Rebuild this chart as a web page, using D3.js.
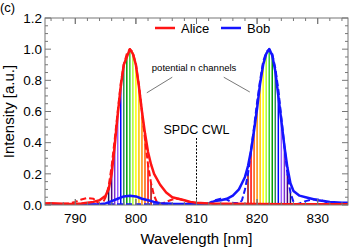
<!DOCTYPE html>
<html>
<head>
<meta charset="utf-8">
<script src="https://cdn.jsdelivr.net/npm/d3@7"></script>
<style>
  body { margin: 0; background: #fff; }
  svg text { font-family: "Liberation Sans", Arial, sans-serif; fill: #000; }
</style>
</head>
<body>
<svg id="chart" width="349" height="248"></svg>
<script>
// Alice (red) - measured (solid) and expected (dashed)
const aliceSolidWl = [785, 786, 787, 788, 789, 790, 791, 792, 793, 794, 795, 795.5, 796, 796.5, 797, 797.5, 798, 798.5, 799, 799.5, 800, 800.5, 801, 801.5, 802, 802.5, 803, 804, 805, 806, 807, 808, 809, 810, 812, 815, 820, 825, 830, 835];
const aliceSolidVal = [0.01, 0.012, 0.01, 0.008, 0.006, 0.006, 0.01, 0.015, 0.02, 0.03, 0.06, 0.1, 0.2, 0.38, 0.58, 0.76, 0.9, 0.95, 1.0, 0.97, 0.9, 0.76, 0.6, 0.46, 0.34, 0.26, 0.2, 0.13, 0.08, 0.05, 0.04, 0.03, 0.02, 0.015, 0.01, 0.008, 0.006, 0.005, 0.005, 0.005];
const aliceDashWl = [785, 787, 789, 790, 791, 792, 793, 793.5, 794, 794.5, 795, 795.5, 796, 796.5, 797, 797.5, 798, 798.5, 799, 799.5, 800, 800.5, 801, 801.5, 802, 802.5, 803, 803.5, 804, 805, 806, 807, 808, 809, 810, 815, 820, 835];
const aliceDashVal = [0.01, 0.005, 0.01, 0.02, 0.035, 0.045, 0.04, 0.02, 0.005, 0.01, 0.05, 0.12, 0.25, 0.42, 0.6, 0.78, 0.9, 0.97, 1.0, 0.98, 0.9, 0.77, 0.6, 0.42, 0.26, 0.14, 0.06, 0.015, 0.005, 0.02, 0.035, 0.04, 0.03, 0.015, 0.005, 0.005, 0.005, 0.005];

// Bob (blue)
const bobSolidWl = [785, 790, 794, 795, 796, 797, 798, 799, 800, 801, 802, 803, 804, 806, 810, 812, 813, 814, 815, 816, 817, 817.5, 818, 818.5, 819, 819.5, 820, 820.5, 821, 821.5, 822, 822.5, 823, 823.5, 824, 824.5, 825, 825.5, 826, 827, 828, 829, 830, 831, 832, 834, 835];
const bobSolidVal = [0.004, 0.004, 0.005, 0.01, 0.025, 0.04, 0.055, 0.06, 0.055, 0.04, 0.03, 0.02, 0.012, 0.008, 0.006, 0.01, 0.025, 0.03, 0.04, 0.06, 0.1, 0.14, 0.18, 0.25, 0.35, 0.48, 0.62, 0.78, 0.9, 0.97, 1.0, 0.96, 0.86, 0.7, 0.54, 0.38, 0.24, 0.14, 0.09, 0.06, 0.05, 0.04, 0.03, 0.025, 0.02, 0.015, 0.015];
const bobDashWl = [785, 795, 805, 810, 812, 813, 814, 815, 816, 817, 817.5, 818, 818.5, 819, 819.5, 820, 820.5, 821, 821.5, 822, 822.5, 823, 823.5, 824, 824.5, 825, 825.5, 826, 826.5, 827, 828, 829, 830, 831, 832, 833, 835];
const bobDashVal = [0.004, 0.004, 0.005, 0.005, 0.01, 0.03, 0.04, 0.035, 0.015, 0.01, 0.03, 0.1, 0.2, 0.35, 0.5, 0.66, 0.8, 0.92, 0.98, 1.0, 0.97, 0.88, 0.74, 0.56, 0.38, 0.2, 0.08, 0.02, 0.005, 0.01, 0.025, 0.035, 0.035, 0.025, 0.01, 0.005, 0.005];

// potential channels (rainbow lines)
const aliceChanWl = [795.5, 796, 796.5, 797, 797.5, 798, 798.5, 799, 799.5, 800, 800.5, 801, 801.5, 802, 802.5];
const aliceChanVal = [0.12, 0.25, 0.42, 0.6, 0.78, 0.9, 0.97, 1.0, 0.98, 0.9, 0.77, 0.6, 0.42, 0.26, 0.14];
const bobChanWl = [818.5, 819, 819.5, 820, 820.5, 821, 821.5, 822, 822.5, 823, 823.5, 824, 824.5, 825, 825.5];
const bobChanVal = [0.2, 0.35, 0.5, 0.66, 0.8, 0.92, 0.98, 1.0, 0.97, 0.88, 0.74, 0.56, 0.38, 0.2, 0.08];
const chanColors = ["#1b1464", "#4b0082", "#7b2fd0", "#9b59ff", "#0000ff", "#2e8b57", "#00a000", "#32cd32", "#adff2f", "#ffff00", "#ffc000", "#ff8c00", "#ff5a00", "#ff0000", "#a50000"];

// axis ticks
const xTicks = [790, 800, 810, 820, 830];
const yTicks = [0, 0.2, 0.4, 0.6, 0.8, 1.0, 1.2];

const svg = d3.select("#chart");
const pLeft = 45, pRight = 348, pTop = 18, pBottom = 205;

const x = d3.scaleLinear().domain([785, 835]).range([pLeft, pRight]);
const y = d3.scaleLinear().domain([0, 1.2]).range([pBottom, pTop]);

// Clip for curves
svg.append("clipPath").attr("id", "clip")
    .append("rect")
    .attr("x", pLeft).attr("y", pTop)
    .attr("width", pRight - pLeft).attr("height", pBottom - pTop);

const plot = svg.append("g").attr("clip-path", "url(#clip)");

// Rainbow channel lines
function drawChannels(wl, val, colors) {
    plot.selectAll(null)
        .data(wl.map((w, i) => ({ w: w, v: val[i], c: colors[i] })))
        .enter()
        .append("line")
        .attr("x1", d => x(d.w)).attr("x2", d => x(d.w))
        .attr("y1", y(0)).attr("y2", d => y(d.v))
        .attr("stroke", d => d.c)
        .attr("stroke-width", 1.5);
}
drawChannels(aliceChanWl, aliceChanVal, chanColors);
drawChannels(bobChanWl, bobChanVal, chanColors.slice().reverse());

// Curves
const line = d3.line()
    .x(d => x(d[0]))
    .y(d => y(d[1]));

function drawCurve(wl, val, color, dashed) {
    plot.append("path")
        .datum(wl.map((w, i) => [w, val[i]]))
        .attr("fill", "none")
        .attr("stroke", color)
        .attr("stroke-width", dashed ? 2 : 2.5)
        .attr("stroke-dasharray", dashed ? "6,3" : null)
        .attr("stroke-linejoin", "round")
        .attr("d", line);
}
drawCurve(bobDashWl, bobDashVal, "#1414ff", true);
drawCurve(aliceDashWl, aliceDashVal, "#ff1414", true);
drawCurve(bobSolidWl, bobSolidVal, "#1414ff", false);
drawCurve(aliceSolidWl, aliceSolidVal, "#ff1414", false);

// SPDC CWL marker
svg.append("line")
    .attr("x1", x(810)).attr("x2", x(810))
    .attr("y1", y(0.43)).attr("y2", y(0))
    .attr("stroke", "#000")
    .attr("stroke-width", 1)
    .attr("stroke-dasharray", "2,1.5");
svg.append("text")
    .attr("x", x(810)).attr("y", y(0.455))
    .attr("text-anchor", "middle")
    .attr("font-size", 12.5)
    .text("SPDC CWL");

// "potential n channels" annotation
svg.append("text")
    .attr("x", x(809.6)).attr("y", y(0.86))
    .attr("text-anchor", "middle")
    .attr("font-size", 9.5)
    .text("potential n channels");
const pointers = [[806, 0.82, 801.8, 0.72], [814.5, 0.82, 818.8, 0.725]];
svg.selectAll(null)
    .data(pointers)
    .enter()
    .append("line")
    .attr("x1", d => x(d[0])).attr("y1", d => y(d[1]))
    .attr("x2", d => x(d[2])).attr("y2", d => y(d[3]))
    .attr("stroke", "#555")
    .attr("stroke-width", 0.8);

// Frame with inward ticks on all sides
const frame = svg.append("g").attr("stroke", "#777").attr("stroke-width", 1);
frame.append("rect")
    .attr("x", pLeft).attr("y", pTop)
    .attr("width", pRight - pLeft).attr("height", pBottom - pTop)
    .attr("fill", "none");

const xMinor = d3.range(786, 835, 2);
const yMinor = d3.range(0, 1.2001, 0.05);
const majorLen = 6, minorLen = 3;

xMinor.concat(xTicks).forEach(v => {
    const len = xTicks.includes(v) ? majorLen : minorLen;
    frame.append("line").attr("x1", x(v)).attr("x2", x(v)).attr("y1", pBottom).attr("y2", pBottom - len);
    frame.append("line").attr("x1", x(v)).attr("x2", x(v)).attr("y1", pTop).attr("y2", pTop + len);
});
yMinor.forEach((v, i) => {
    const len = i % 4 === 0 ? majorLen : minorLen;
    frame.append("line").attr("x1", pLeft).attr("x2", pLeft + len).attr("y1", y(v)).attr("y2", y(v));
    frame.append("line").attr("x1", pRight).attr("x2", pRight - len).attr("y1", y(v)).attr("y2", y(v));
});

// Tick labels
svg.selectAll(null)
    .data(xTicks)
    .enter()
    .append("text")
    .attr("x", d => x(d))
    .attr("y", pBottom + 18)
    .attr("text-anchor", "middle")
    .attr("font-size", 13.5)
    .text(d => d);
svg.selectAll(null)
    .data(yTicks)
    .enter()
    .append("text")
    .attr("x", pLeft - 3)
    .attr("y", d => y(d))
    .attr("dy", "0.35em")
    .attr("text-anchor", "end")
    .attr("font-size", 13.5)
    .text(d => d3.format(".1f")(d));

// Axis titles
svg.append("text")
    .attr("x", (pLeft + pRight) / 2)
    .attr("y", 244)
    .attr("text-anchor", "middle")
    .attr("font-size", 15)
    .text("Wavelength [nm]");
svg.append("text")
    .attr("transform", `translate(14,${(pTop + pBottom) / 2}) rotate(-90)`)
    .attr("text-anchor", "middle")
    .attr("font-size", 15)
    .text("Intensity [a.u.]");

// Panel label
svg.append("text")
    .attr("x", 0).attr("y", 12)
    .attr("font-size", 13)
    .text("(c)");

// Legend
const legend = [["Alice", "#ff1414"], ["Bob", "#1414ff"]];
const legendX = [155, 221];
legend.forEach((d, i) => {
    svg.append("line")
        .attr("x1", legendX[i]).attr("x2", legendX[i] + 20)
        .attr("y1", 28).attr("y2", 28)
        .attr("stroke", d[1]).attr("stroke-width", 2.5);
    svg.append("text")
        .attr("x", legendX[i] + 26).attr("y", 33)
        .attr("font-size", 13)
        .text(d[0]);
});
</script>
</body>
</html>
